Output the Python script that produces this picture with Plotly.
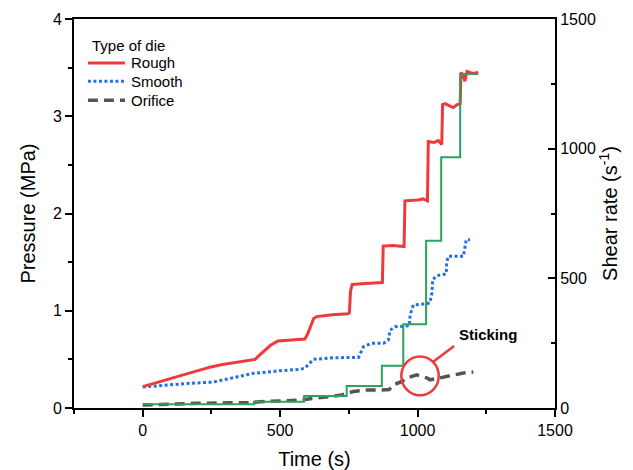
import plotly.graph_objects as go

# ---------------- data ----------------
# Rough die pressure (MPa) vs time (s)
rough_t = [0, 80, 160, 245, 290, 330, 370, 400, 409, 420, 445, 465, 492, 540, 590,
           600, 612, 622, 633, 690, 747, 752, 756, 762, 810, 872,
           875, 910, 951, 954, 1000, 1020, 1036,
           1039, 1060, 1075, 1088, 1091, 1100, 1130, 1145, 1155,
           1158, 1165, 1172, 1180, 1200, 1221]
rough_p = [0.22, 0.285, 0.35, 0.42, 0.447, 0.465, 0.485, 0.497, 0.50, 0.53, 0.59, 0.645, 0.69, 0.70, 0.71,
           0.76, 0.86, 0.92, 0.94, 0.96, 0.97, 0.98, 1.20, 1.27, 1.28, 1.29,
           1.665, 1.67, 1.66, 2.13, 2.14, 2.15, 2.13,
           2.74, 2.73, 2.75, 2.71, 3.12, 3.13, 3.09, 3.12, 3.13,
           3.45, 3.43, 3.36, 3.46, 3.44, 3.45]

# Smooth die pressure (MPa)
smooth_t = [0, 87, 172, 257, 330, 402, 500, 572, 590, 605, 621, 694, 785, 803, 827,
            839, 876, 894, 900, 918, 948, 970, 973, 985, 1021, 1045, 1052, 1055,
            1070, 1104, 1106, 1112, 1167, 1170, 1177, 1191]
smooth_p = [0.216, 0.236, 0.254, 0.267, 0.315, 0.356, 0.383, 0.397, 0.41, 0.45, 0.50, 0.517, 0.52, 0.63, 0.66,
            0.665, 0.665, 0.70, 0.80, 0.835, 0.845, 0.845, 0.96, 1.06, 1.07, 1.08, 1.18, 1.32,
            1.36, 1.38, 1.50, 1.56, 1.56, 1.62, 1.73, 1.73]

# Orifice die pressure (MPa)
orifice_t = [0, 87, 196, 390, 427, 524, 572, 621, 694, 718, 766, 815, 864, 897, 912,
             942, 961, 997, 1033, 1045, 1082, 1118, 1167, 1203]
orifice_p = [0.03, 0.038, 0.048, 0.055, 0.065, 0.075, 0.082, 0.10, 0.12, 0.13, 0.17, 0.185, 0.185, 0.19, 0.24,
             0.27, 0.31, 0.34, 0.31, 0.29, 0.31, 0.33, 0.36, 0.37]

# Shear rate (1/s), step profile
rate_t = [0, 405, 587, 742, 870, 948, 1031, 1086, 1155, 1220]
rate_v = [14, 24, 46, 85, 163, 323, 645, 967, 1288, 1288]

x_ticks = [0, 500, 1000, 1500]
y_ticks = [0, 1, 2, 3, 4]
y2_ticks = [0, 500, 1000, 1500]

legend_title = "Type of die"
legend_names = ["Rough", "Smooth", "Orifice"]

FONT = "Arial, Liberation Sans, sans-serif"
RED = "#ee3a3a"
BLUE = "#2270e6"
GRAY = "#555555"
GREEN = "#2ca25f"
styles = {
    "Rough": dict(color=RED, width=3),
    "Smooth": dict(color=BLUE, width=3, dash="3px,2.5px"),
    "Orifice": dict(color=GRAY, width=3.5, dash="10px,6px"),
}

fig = go.Figure()
fig.add_trace(go.Scatter(x=orifice_t, y=orifice_p, mode="lines", name="Orifice",
                         line=styles["Orifice"], showlegend=False))
fig.add_trace(go.Scatter(x=smooth_t, y=smooth_p, mode="lines", name="Smooth",
                         line=styles["Smooth"], showlegend=False))
fig.add_trace(go.Scatter(x=rough_t, y=rough_p, mode="lines", name="Rough",
                         line=styles["Rough"], showlegend=False))
fig.add_trace(go.Scatter(x=rate_t, y=rate_v, mode="lines", line=dict(color=GREEN, width=2, shape="hv"),
                         yaxis="y2", showlegend=False, name="Shear rate"))

# legend drawn in paper coordinates (title + sample lines + labels)
lx0, lx1, ltx = 0.029, 0.106, 0.114
fig.add_annotation(x=0.033, y=0.933, xref="paper", yref="paper", text=legend_title, showarrow=False,
                   xanchor="left", yanchor="middle", font=dict(family=FONT, size=15, color="black"))
for name, ly in zip(legend_names, [0.887, 0.840, 0.791]):
    fig.add_shape(type="line", xref="paper", yref="paper", x0=lx0, x1=lx1, y0=ly, y1=ly,
                  line=styles[name])
    fig.add_annotation(x=ltx, y=ly, xref="paper", yref="paper", text=name, showarrow=False,
                       xanchor="left", yanchor="middle", font=dict(family=FONT, size=15, color="black"))

# annotation circle + pointer + text
fig.add_shape(type="circle", xref="x", yref="y", x0=941, x1=1077, y0=0.13, y1=0.53,
              line=dict(color=RED, width=2.5))
fig.add_shape(type="line", xref="x", yref="y", x0=1057, y0=0.476, x1=1133, y1=0.637,
              line=dict(color=RED, width=2.5))
fig.add_annotation(x=1142, y=0.76, xref="x", yref="y", text="<b>Sticking</b>", showarrow=False,
                   xanchor="left", yanchor="middle", font=dict(family=FONT, size=15, color="black"))

axis_common = dict(showgrid=False, zeroline=False, showline=True, linecolor="black", linewidth=2,
                   tickcolor="black", tickwidth=2, automargin=False,
                   tickfont=dict(family=FONT, size=16, color="black"))

fig.update_layout(
    width=633, height=470,
    margin=dict(l=74, r=78, t=19, b=62, autoexpand=False),
    paper_bgcolor="white", plot_bgcolor="white",
    font=dict(family=FONT, color="black"),
    showlegend=False,
    xaxis=dict(range=[-250, 1500], tickvals=x_ticks, ticks="outside", ticklen=7, mirror=True,
               minor=dict(dtick=250, tick0=-250, ticks="outside", ticklen=4, tickcolor="black", tickwidth=2),
               title=dict(text="Time (s)", font=dict(family=FONT, size=20), standoff=14),
               **axis_common),
    yaxis=dict(range=[0, 4], tickvals=y_ticks, ticks="outside", ticklen=7,
               minor=dict(dtick=0.5, ticks="outside", ticklen=4, tickcolor="black", tickwidth=2),
               title=dict(text="Pressure (MPa)", font=dict(family=FONT, size=20), standoff=12),
               **axis_common),
    yaxis2=dict(range=[0, 1500], tickvals=y2_ticks, ticks="inside", ticklen=7, side="right",
                overlaying="y", anchor="x",
                minor=dict(dtick=250, ticks="inside", ticklen=4, tickcolor="black", tickwidth=2),
                title=dict(text="Shear rate (s<sup>-1</sup>)", font=dict(family=FONT, size=20), standoff=8),
                **axis_common),
)

fig.write_html("out.html")
